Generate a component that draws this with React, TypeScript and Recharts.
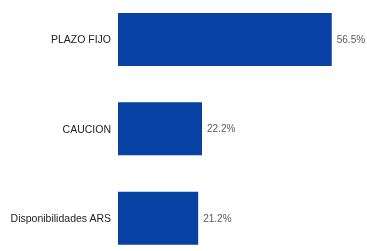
import { BarChart, Bar, XAxis, YAxis, LabelList } from "recharts";

const categories = ["PLAZO FIJO", "CAUCION", "Disponibilidades ARS"];
const shares = [56.5, 22.2, 21.2];

const data = categories.map((name, i) => ({ name, value: shares[i] }));

// plain tick so long names stay on one line
const CategoryTick = (props: any) => {
  const { x, y, payload } = props;
  return (
    <text
      x={x}
      y={y}
      dy={3.7}
      textAnchor="end"
      fontSize={10.5}
      fill="#222"
      fontFamily="Liberation Sans"
    >
      {payload.value}
    </text>
  );
};

export default function App() {
  return (
    <div
      style={{
        position: "fixed",
        left: 0,
        top: 0,
        width: 367,
        height: 251,
        overflow: "hidden",
      }}
    >
      <div style={{ marginTop: -5 }}>
        <BarChart
          width={367}
          height={268}
          data={data}
          layout="vertical"
          margin={{ top: 0, right: 22, left: 0, bottom: 0 }}
        >
          <XAxis type="number" domain={[0, 60]} hide />
          <YAxis
            type="category"
            dataKey="name"
            width={118}
            axisLine={false}
            tickLine={false}
            tickSize={5}
            tickMargin={2}
            tick={<CategoryTick />}
          />
          <Bar dataKey="value" fill="#0741A3" barSize={53} isAnimationActive={false}>
            <LabelList
              dataKey="value"
              position="right"
              offset={5}
              formatter={(v: number) => `${v.toFixed(1)}%`}
              style={{ fontSize: 10, fill: "#595959", fontFamily: "Liberation Sans" }}
            />
          </Bar>
        </BarChart>
      </div>
    </div>
  );
}
